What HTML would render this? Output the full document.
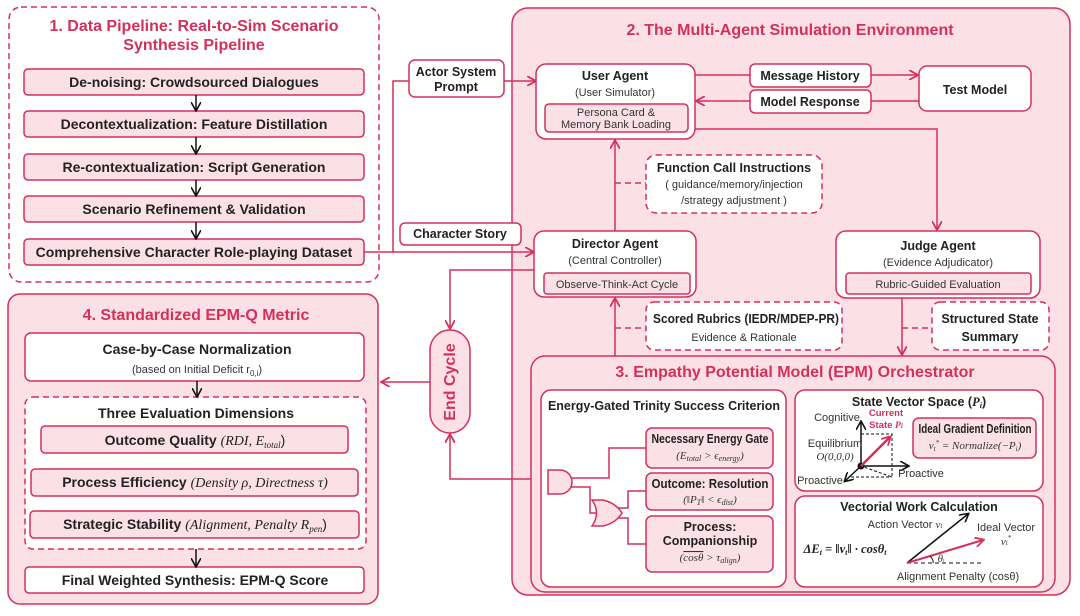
<!DOCTYPE html>
<html><head><meta charset="utf-8"><style>
html,body{margin:0;padding:0;background:#fff}
svg text{font-family:"Liberation Sans",sans-serif}
.t{font-weight:bold;fill:#d4305a;font-size:16px}
.b{font-weight:bold;fill:#222;font-size:12.5px}
.s1{font-size:14px}
.n{fill:#333;font-size:11px}
.m{font-family:"Liberation Serif",serif;font-style:italic}
</style></head><body>
<svg width="1080" height="611" viewBox="0 0 1080 611" xmlns="http://www.w3.org/2000/svg">
<defs>
<marker id="ar" markerWidth="10" markerHeight="10" refX="8" refY="5" orient="auto" markerUnits="userSpaceOnUse"><path d="M0,0 L9,5 L0,10" fill="none" stroke="#d4305a" stroke-width="1.8"/></marker>
<marker id="ak" markerWidth="10" markerHeight="10" refX="8" refY="5" orient="auto" markerUnits="userSpaceOnUse"><path d="M0,0 L9,5 L0,10" fill="none" stroke="#111" stroke-width="1.6"/></marker>
</defs>
<g stroke="#d4305a" stroke-width="1.5">
<rect x="9" y="7" width="370" height="275" rx="12" fill="#fff" stroke-dasharray="6,4"/>
<rect x="24" y="69" width="340" height="26" rx="4" fill="#fbe1e7"/>
<rect x="24" y="111" width="340" height="26" rx="4" fill="#fbe1e7"/>
<rect x="24" y="154" width="340" height="26" rx="4" fill="#fbe1e7"/>
<rect x="24" y="196" width="340" height="26" rx="4" fill="#fbe1e7"/>
<rect x="24" y="239" width="340" height="26" rx="4" fill="#fbe1e7"/>
<rect x="8" y="294" width="370" height="310" rx="12" fill="#fbe1e7"/>
<rect x="25" y="333" width="339" height="48" rx="6" fill="#fff"/>
<rect x="25" y="397" width="341" height="152" rx="8" fill="#fff" stroke-dasharray="6,4"/>
<rect x="41" y="426" width="307" height="27" rx="4" fill="#fbe1e7"/>
<rect x="31" y="469" width="327" height="27" rx="4" fill="#fbe1e7"/>
<rect x="30" y="511" width="329" height="27" rx="4" fill="#fbe1e7"/>
<rect x="25" y="567" width="339" height="26" rx="4" fill="#fff"/>
<rect x="512" y="8" width="558" height="587" rx="16" fill="#fbe1e7"/>
<polyline points="364,252 393,252 393,81 409,81" fill="none"/>
<line x1="393" y1="252" x2="533" y2="252" marker-end="url(#ar)"/>
<line x1="504" y1="81" x2="535" y2="81" marker-end="url(#ar)"/>
<rect x="409" y="60" width="95" height="37" rx="6" fill="#fff"/>
<rect x="400" y="223" width="121" height="22" rx="5" fill="#fff"/>
<rect x="536" y="64" width="159" height="75" rx="10" fill="#fff"/>
<rect x="545" y="104" width="143" height="28" rx="4" fill="#fbe1e7"/>
<line x1="695" y1="75" x2="917" y2="75" marker-end="url(#ar)"/>
<line x1="919" y1="101" x2="697" y2="101" marker-end="url(#ar)"/>
<rect x="750" y="64" width="121" height="23" rx="5" fill="#fff"/>
<rect x="750" y="90" width="121" height="23" rx="5" fill="#fff"/>
<rect x="919" y="66" width="112" height="45" rx="8" fill="#fff"/>
<polyline points="695,129 937,129 937,229" fill="none" marker-end="url(#ar)"/>
<line x1="615" y1="231" x2="615" y2="141" marker-end="url(#ar)"/>
<line x1="615" y1="183" x2="646" y2="183" stroke-dasharray="6,4"/>
<rect x="646" y="155" width="176" height="58" rx="10" fill="#fff" stroke-dasharray="6,4"/>
<rect x="534" y="231" width="162" height="66" rx="10" fill="#fff"/>
<rect x="544" y="273" width="146" height="21" rx="3" fill="#fbe1e7"/>
<rect x="836" y="231" width="204" height="67" rx="10" fill="#fff"/>
<rect x="846" y="273" width="185" height="21" rx="3" fill="#fbe1e7"/>
<line x1="615" y1="356" x2="615" y2="299" marker-end="url(#ar)"/>
<line x1="615" y1="328" x2="646" y2="328" stroke-dasharray="6,4"/>
<rect x="646" y="302" width="196" height="48" rx="8" fill="#fff" stroke-dasharray="6,4"/>
<line x1="902" y1="298" x2="902" y2="354" marker-end="url(#ar)"/>
<line x1="902" y1="328" x2="932" y2="328" stroke-dasharray="6,4"/>
<rect x="932" y="302" width="117" height="48" rx="8" fill="#fff" stroke-dasharray="6,4"/>
<polyline points="534,270 450,270 450,328" fill="none" marker-end="url(#ar)"/>
<line x1="430" y1="382" x2="382" y2="382" marker-end="url(#ar)"/>
<polyline points="548,479 450,479 450,435" fill="none" marker-end="url(#ar)"/>
<rect x="430" y="330" width="40" height="103" rx="20" fill="#fbe1e7"/>
<rect x="531" y="356" width="524" height="236" rx="14" fill="#fbe1e7"/>
<rect x="541" y="390" width="245" height="197" rx="10" fill="#fff"/>
<rect x="795" y="390" width="248" height="101" rx="10" fill="#fff"/>
<rect x="795" y="496" width="248" height="91" rx="10" fill="#fff"/>
<rect x="646" y="428" width="127" height="40" rx="6" fill="#fbe1e7"/>
<rect x="646" y="473" width="127" height="37" rx="6" fill="#fbe1e7"/>
<rect x="646" y="516" width="127" height="56" rx="6" fill="#fbe1e7"/>
<polyline points="571,478 609,478 609,448 646,448" fill="none"/>
<polyline points="571,487 590,487 590,513 596,513" fill="none"/>
<polyline points="616,508 628,508 628,491 646,491" fill="none"/>
<polyline points="616,518 628,518 628,544 646,544" fill="none"/>
<path d="M548,470 H560 A12,12 0 0 1 560,494 H548 Z" fill="#fbe1e7"/>
<path d="M592,500 Q601,513 592,526 H603 Q616,523 622,513 Q616,503 603,500 Z" fill="#fbe1e7"/>
<rect x="913" y="418" width="123" height="40" rx="6" fill="#fbe1e7"/>
</g>
<g stroke="#111" stroke-width="1.5" fill="none">
<line x1="196" y1="95" x2="196" y2="110" marker-end="url(#ak)"/>
<line x1="196" y1="137" x2="196" y2="153" marker-end="url(#ak)"/>
<line x1="196" y1="180" x2="196" y2="195" marker-end="url(#ak)"/>
<line x1="196" y1="222" x2="196" y2="238" marker-end="url(#ak)"/>
<line x1="197" y1="381" x2="197" y2="396" marker-end="url(#ak)"/>
<line x1="196" y1="549" x2="196" y2="566" marker-end="url(#ak)"/>
<line x1="861" y1="466" x2="861" y2="422" marker-end="url(#ak)"/>
<line x1="861" y1="466" x2="908" y2="466" marker-end="url(#ak)"/>
<line x1="861" y1="466" x2="845" y2="481" marker-end="url(#ak)"/>
<polyline points="861,434 892,434 892,477 861,466" stroke-dasharray="3,2" stroke-width="1"/>
<line x1="851" y1="477" x2="892" y2="477" stroke-dasharray="3,2" stroke-width="1"/>
<line x1="907" y1="563" x2="968" y2="514" marker-end="url(#ak)"/>
<line x1="907" y1="563" x2="982" y2="563" stroke-dasharray="4,3" stroke-width="1"/>
</g>
<circle cx="861" cy="466" r="3.5" fill="#111"/>
<line x1="861" y1="466" x2="890" y2="437" stroke="#d4305a" stroke-width="2.5" marker-end="url(#ar)"/>
<line x1="907" y1="563" x2="983" y2="540" stroke="#d4305a" stroke-width="2" marker-end="url(#ar)"/>
<path d="M930,556 Q934,560 933,563" fill="none" stroke="#111" stroke-width="1"/>
<g text-anchor="middle">
<text class="t" x="194" y="31">1. Data Pipeline: Real-to-Sim Scenario</text>
<text class="t" x="194" y="50">Synthesis Pipeline</text>
<text class="b s1" x="194" y="87">De-noising: Crowdsourced Dialogues</text>
<text class="b s1" x="194" y="129">Decontextualization: Feature Distillation</text>
<text class="b s1" x="194" y="172">Re-contextualization: Script Generation</text>
<text class="b s1" x="194" y="214">Scenario Refinement &amp; Validation</text>
<text class="b s1" x="194" y="257">Comprehensive Character Role-playing Dataset</text>
<text class="t" x="196" y="320">4. Standardized EPM-Q Metric</text>
<text class="b s1" x="197" y="354">Case-by-Case Normalization</text>
<text class="n" x="197" y="373">(based on Initial Deficit r<tspan font-size="8" dy="3">0,i</tspan><tspan dy="-3">)</tspan></text>
<text class="b s1" x="196" y="418">Three Evaluation Dimensions</text>
<text class="b s1" x="195" y="445">Outcome Quality <tspan font-weight="normal" class="m">(RDI, E</tspan><tspan font-weight="normal" class="m" font-size="9" dy="3">total</tspan><tspan font-weight="normal" dy="-3">)</tspan></text>
<text class="b s1" x="195" y="487">Process Efficiency <tspan font-weight="normal" class="m">(Density ρ, Directness τ)</tspan></text>
<text class="b s1" x="195" y="529">Strategic Stability <tspan font-weight="normal" class="m">(Alignment, Penalty R</tspan><tspan font-weight="normal" class="m" font-size="9" dy="3">pen</tspan><tspan font-weight="normal" dy="-3">)</tspan></text>
<text class="b s1" x="195" y="585">Final Weighted Synthesis: EPM-Q Score</text>
<text class="t" x="790" y="35">2. The Multi-Agent Simulation Environment</text>
<text class="b" x="456" y="76" font-size="11.5">Actor System</text>
<text class="b" x="456" y="91" font-size="11.5">Prompt</text>
<text class="b" x="460" y="238" font-size="11.5">Character Story</text>
<text class="b" x="615" y="80">User Agent</text>
<text class="n" x="615" y="96">(User Simulator)</text>
<text class="n" x="616" y="116" font-size="10.5">Persona Card &amp;</text>
<text class="n" x="616" y="128" font-size="10.5">Memory Bank Loading</text>
<text class="b" x="810" y="80" font-size="11.5">Message History</text>
<text class="b" x="810" y="106" font-size="11.5">Model Response</text>
<text class="b" x="975" y="94">Test Model</text>
<text class="b" x="734" y="172" font-size="11.5">Function Call Instructions</text>
<text class="n" x="734" y="188">( guidance/memory/injection</text>
<text class="n" x="734" y="204">/strategy adjustment )</text>
<text class="b" x="615" y="248">Director Agent</text>
<text class="n" x="615" y="264">(Central Controller)</text>
<text class="n" x="617" y="288" font-size="10.5">Observe-Think-Act Cycle</text>
<text class="b" x="938" y="250">Judge Agent</text>
<text class="n" x="938" y="266">(Evidence Adjudicator)</text>
<text class="n" x="938" y="288" font-size="10.5">Rubric-Guided Evaluation</text>
<text class="b" x="746" y="323" font-size="11" textLength="186" lengthAdjust="spacingAndGlyphs">Scored Rubrics (IEDR/MDEP-PR)</text>
<text class="n" x="744" y="341" font-size="12">Evidence &amp; Rationale</text>
<text class="b" x="990" y="323">Structured State</text>
<text class="b" x="990" y="341">Summary</text>
<text class="t" x="455" y="382" transform="rotate(-90 455 382)" font-size="15">End Cycle</text>
<text class="t" x="795" y="377">3. Empathy Potential Model (EPM) Orchestrator</text>
<text class="b" x="664" y="410" font-size="12" textLength="232" lengthAdjust="spacingAndGlyphs">Energy-Gated Trinity Success Criterion</text>
<text class="b" x="710" y="443" font-size="10.5" textLength="117" lengthAdjust="spacingAndGlyphs">Necessary Energy Gate</text>
<text class="n m" x="710" y="459">(E<tspan font-size="8" dy="2">total</tspan><tspan dy="-2"> &gt; ϵ</tspan><tspan font-size="8" dy="2">energy</tspan><tspan dy="-2">)</tspan></text>
<text class="b" x="710" y="488" font-size="10.5" textLength="117" lengthAdjust="spacingAndGlyphs">Outcome: Resolution</text>
<text class="n m" x="710" y="503">(‖P<tspan font-size="8" dy="2">T</tspan><tspan dy="-2">‖ &lt; ϵ</tspan><tspan font-size="8" dy="2">dist</tspan><tspan dy="-2">)</tspan></text>
<text class="b" x="710" y="531" font-size="10.5">Process:</text>
<text class="b" x="710" y="545" font-size="10.5">Companionship</text>
<text class="n m" x="710" y="561">(<tspan text-decoration="overline">cosθ</tspan> &gt; τ<tspan font-size="8" dy="2">align</tspan><tspan dy="-2">)</tspan></text>
<text class="b" x="919" y="406" font-size="12.5">State Vector Space (<tspan class="m">P</tspan><tspan class="m" font-size="8" dy="2">i</tspan><tspan dy="-2">)</tspan></text>
<text class="n" x="837" y="421" font-size="9.5">Cognitive</text>
<text x="886" y="416" font-size="9.5" font-weight="bold" fill="#d4305a">Current</text>
<text x="886" y="428" font-size="9.5" font-weight="bold" fill="#d4305a">State <tspan class="m">P</tspan><tspan font-size="7" class="m">i</tspan></text>
<text class="n" x="835" y="447" font-size="9.5">Equilibrium</text>
<text class="n m" x="835" y="460" font-size="10">O(0,0,0)</text>
<text class="n" x="921" y="477" font-size="9.5">Proactive</text>
<text class="n" x="820" y="484" font-size="9.5">Proactive</text>
<text class="b" x="975" y="433" font-size="9.5" textLength="113" lengthAdjust="spacingAndGlyphs">Ideal Gradient Definition</text>
<text class="n m" x="975" y="449" font-size="10.5">v<tspan font-size="7" dy="2">t</tspan><tspan font-size="7" dy="-6">*</tspan><tspan dy="4"> = Normalize(−P</tspan><tspan font-size="7" dy="2">i</tspan><tspan dy="-2">)</tspan></text>
<text class="b" x="919" y="511" font-size="12.5">Vectorial Work Calculation</text>
<text class="n" x="905" y="528" font-size="9.5">Action Vector <tspan class="m">v</tspan><tspan class="m" font-size="7">t</tspan></text>
<text class="n" x="1006" y="531" font-size="9.5">Ideal Vector</text>
<text class="n m" x="1006" y="545" font-size="10">v<tspan font-size="7">t</tspan><tspan font-size="7" dy="-5">*</tspan></text>
<text class="b m" x="845" y="553" font-size="12">ΔE<tspan font-size="8" dy="2">t</tspan><tspan dy="-2"> = ‖v</tspan><tspan font-size="8" dy="2">t</tspan><tspan dy="-2">‖ · cosθ</tspan><tspan font-size="8" dy="2">t</tspan></text>
<text class="n m" x="941" y="562" font-size="7">θ<tspan font-size="5">t</tspan></text>
<text class="n" x="958" y="580" font-size="9.5">Alignment Penalty (cosθ)</text>
</g>
</svg>
</body></html>
